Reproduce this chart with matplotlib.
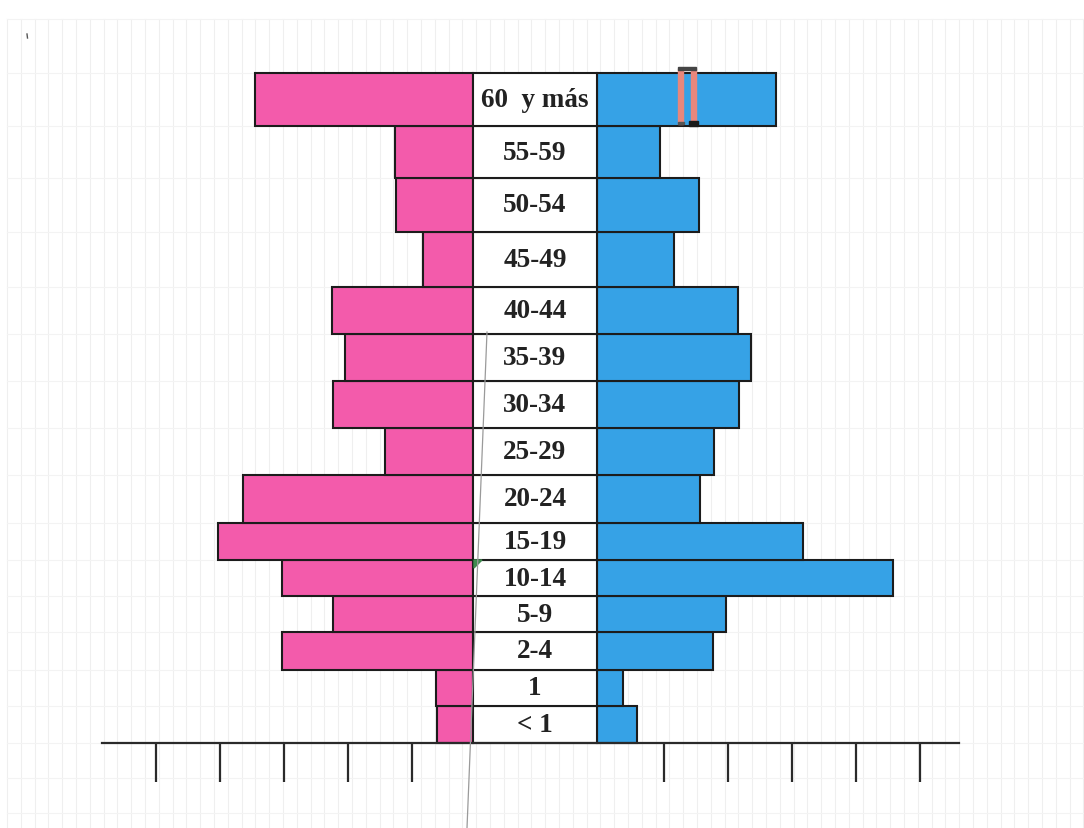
import numpy as np
import matplotlib
matplotlib.use("Agg")
import matplotlib.pyplot as plt
from matplotlib.patches import Rectangle, Polygon

# Age groups, bottom to top
age_groups = ["< 1", "1", "2-4", "5-9", "10-14", "15-19", "20-24", "25-29",
              "30-34", "35-39", "40-44", "45-49", "50-54", "55-59", "60  y más"]

# Values in axis-tick units (one tick = one unit)
mujeres = [0.56, 0.58, 2.99, 2.19, 2.98, 3.99, 3.59, 1.38,
           2.19, 2.00, 2.20, 0.78, 1.20, 1.21, 3.41]
hombres = [0.63, 0.41, 1.81, 2.02, 4.62, 3.22, 1.61, 1.82,
           2.22, 2.41, 2.20, 1.20, 1.59, 0.98, 2.80]

tick_units = [1, 2, 3, 4, 5]

# Layout: row heights (spreadsheet rows, in pixels), bottom to top
row_heights = [37, 36, 38, 36, 36, 37, 48, 47, 47, 47, 47, 55, 54, 52, 53]

W, H, DPI = 1084, 829, 100
PX_PER_UNIT = 64.0
CENTER_PX = 535.0
BASE_PX = H - 744          # baseline measured from the bottom of the figure
HALF_GAP = 0.97            # half width of the label column, in units
TICK_SHIFT = 0.05          # the tick row sits slightly right of the column centre

pink = "#F35BAB"
blue = "#36A2E6"
edge = "#1c1c1c"

fig = plt.figure(figsize=(W / DPI, H / DPI), dpi=DPI)
fig.patch.set_facecolor("white")

# --- background sheet grid (pixel coordinates) ---
bg = fig.add_axes([0, 0, 1, 1], zorder=0)
bg.set_xlim(0, W)
bg.set_ylim(H, 0)
bg.axis("off")
grid_top = 20
for x in np.arange(7, W, 13.8):
    bg.plot([x, x], [grid_top, H], color="#efefef", lw=0.8)
row_edges_px = 744 - np.concatenate([[0], np.cumsum(row_heights)])
h_lines = list(row_edges_px) + [20, 779, 814]
for y in h_lines:
    bg.plot([7, W], [y, y], color="#f3f3f3", lw=0.8)

# --- pyramid ---
ax = fig.add_axes([0, 0, 1, 1], zorder=1)
ax.patch.set_alpha(0)
ax.set_xlim(-CENTER_PX / PX_PER_UNIT, (W - CENTER_PX) / PX_PER_UNIT)
ax.set_ylim(0, H)
ax.axis("off")

heights = np.array(row_heights, dtype=float)
bottoms = BASE_PX + np.concatenate([[0], np.cumsum(heights)[:-1]])

ax.barh(bottoms, -np.array(mujeres), left=-HALF_GAP, height=heights,
        align="edge", color=pink, edgecolor=edge, linewidth=1.5, zorder=2)
ax.barh(bottoms, np.array(hombres), left=HALF_GAP, height=heights,
        align="edge", color=blue, edgecolor=edge, linewidth=1.5, zorder=2)
ax.barh(bottoms, 2 * HALF_GAP, left=-HALF_GAP, height=heights,
        align="edge", color="white", edgecolor=edge, linewidth=1.5, zorder=2)

for b, h, lab in zip(bottoms, heights, age_groups):
    ax.text(0, b + h / 2, lab, ha="center", va="center",
            family="Liberation Serif", fontweight="bold", fontsize=19.5,
            color="#222222", zorder=3)

# base line with tick marks below
ax.plot([(102 - CENTER_PX) / PX_PER_UNIT, (959 - CENTER_PX) / PX_PER_UNIT],
        [BASE_PX, BASE_PX], color="#2a2a2a", lw=1.6, zorder=3)
tick_x = ([-HALF_GAP - t + TICK_SHIFT for t in tick_units]
          + [HALF_GAP + t + TICK_SHIFT for t in tick_units])
ax.vlines(tick_x, BASE_PX - 39, BASE_PX, color="#2a2a2a", lw=1.6, zorder=3)

# --- pencil marks on the sheet (pixel coordinates) ---
ov = fig.add_axes([0, 0, 1, 1], zorder=2)
ov.patch.set_alpha(0)
ov.set_xlim(0, W)
ov.set_ylim(H, 0)
ov.axis("off")
ov.plot([487, 467], [333, 829], color="#9a9a9a", lw=0.9)
ov.add_patch(Polygon([[474, 561], [482, 561], [474, 569]], closed=True,
                     color="#3f8a4e"))
ov.add_patch(Rectangle((678, 70), 5, 55, color="#E8877C"))
ov.add_patch(Rectangle((691, 70), 5, 53, color="#E8877C"))
ov.add_patch(Rectangle((678, 68), 18, 3, color="#444444"))
ov.add_patch(Rectangle((689, 122), 9, 5, color="#1a1a1a"))
ov.add_patch(Rectangle((678, 123), 6, 2, color="#555555"))
ov.plot([27, 27.5], [35, 39], color="#555555", lw=1.0)

fig.savefig("out.png", dpi=DPI, facecolor="white")
